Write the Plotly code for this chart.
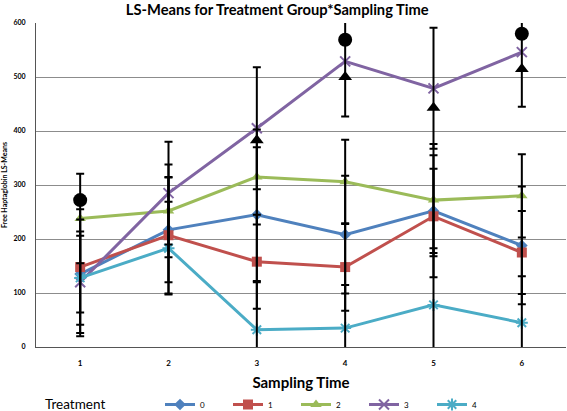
import plotly.graph_objects as go

times = [1, 2, 3, 4, 5, 6]
treatments = ["0", "1", "2", "3", "4"]

t0 = [135, 217, 245, 208, 252, 188]
t1 = [148, 207, 158, 148, 242, 175]
t2 = [238, 252, 315, 306, 272, 280]
t3 = [120, 285, 405, 529, 479, 546]
t4 = [128, 183, 32, 35, 78, 45]

e0 = [71, 97, 125, 109, 78, 109]
e1 = [107, 108, 87, 81, 113, 77]
e2 = [83, 86, 88, 78, 104, 77]
e3 = [94, 95, 113, 102, 112, 101]
e4 = [108, 86, 90, 80, 105, 86]

circle_x = [1, 4, 6]
circle_y = [272, 569, 580]
tri_x = [3, 4, 5, 6]
tri_y = [383, 500, 443, 515]

means = [t0, t1, t2, t3, t4]
errs = [e0, e1, e2, e3, e4]
colors = ["#4F81BD", "#C0504D", "#9BBB59", "#8064A2", "#4BACC6"]
symbols = ["diamond", "square", "triangle-up", "x-thin", "asterisk"]
sizes = [9, 10, 10, 10, 10]

FONT = "Lato"
fig = go.Figure()

for name, y, c, s, sz in zip(treatments, means, colors, symbols, sizes):
    mk = dict(symbol=s, size=sz, color=c)
    if s in ("x-thin", "asterisk"):
        mk["line"] = dict(color=c, width=2)
    fig.add_trace(go.Scatter(x=times, y=y, name=name, mode="lines+markers",
                             line=dict(color=c, width=3), marker=mk))

for y, e in zip(means, errs):
    fig.add_trace(go.Scatter(x=times, y=y, mode="markers", showlegend=False,
                             marker=dict(size=1, opacity=0), hoverinfo="skip",
                             error_y=dict(type="data", array=e, visible=True,
                                          color="black", thickness=2, width=4)))

fig.add_trace(go.Scatter(x=circle_x, y=circle_y, mode="markers", showlegend=False,
                         marker=dict(symbol="circle", size=14, color="black")))
fig.add_trace(go.Scatter(x=tri_x, y=tri_y, mode="markers", showlegend=False,
                         marker=dict(symbol="triangle-up", size=12, color="black")))

PH = 324.0  # plot height in px
fig.update_layout(
    width=567, height=411,
    margin=dict(l=36, r=1, t=23, b=64, autoexpand=False),
    paper_bgcolor="white", plot_bgcolor="white",
    font=dict(family=FONT, color="black"),
    title=dict(text="<b>LS-Means for Treatment Group*Sampling Time</b>",
               x=0.489, xanchor="center", y=0.975, yanchor="middle",
               font=dict(size=14.7, family=FONT)),
    showlegend=True,
    legend=dict(orientation="h", x=(160 - 36) / 530, xanchor="left",
                y=-(390 - 347) / PH, yanchor="top",
                entrywidth=23, entrywidthmode="pixels",
                font=dict(size=8, family=FONT), itemwidth=30),
    xaxis=dict(range=[0.5, 6.5], tickmode="array", tickvals=times,
               ticktext=[f"<b>{t}</b>" for t in times],
               tickfont=dict(size=8), showgrid=False, zeroline=False,
               showline=True, linecolor="#555", linewidth=1, ticks="",
               ticklabelstandoff=8,
               title=dict(text="<b>Sampling Time</b>", font=dict(size=15), standoff=10)),
    yaxis=dict(range=[0, 600], tickvals=[0, 100, 200, 300, 400, 500, 600],
               ticktext=[f"<b>{v}</b>" for v in [0, 100, 200, 300, 400, 500, 600]],
               tickfont=dict(size=7), showgrid=True, gridcolor="#8c8c8c", gridwidth=1,
               zeroline=False, showline=True, linecolor="#555", linewidth=1, ticks="",
               ticklabelstandoff=8,
               title=dict(text="<b>Free Haptaglobin LS-Means</b>", font=dict(size=7), standoff=6)),
    annotations=[dict(text="Treatment", x=(43 - 36) / 530, xanchor="left", xref="paper",
                      y=-(404 - 347) / PH, yanchor="middle", yref="paper",
                      showarrow=False, font=dict(size=13.5, family=FONT))],
)

fig.write_html("out.html", config={"displayModeBar": False},
               post_script="document.body.style.margin='0';")
